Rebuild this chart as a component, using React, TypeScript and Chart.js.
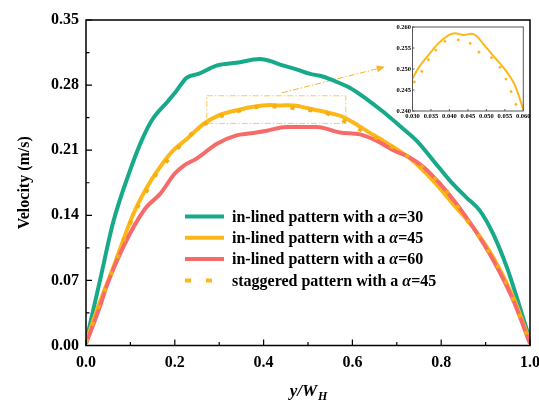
import React, { useEffect, useRef } from "react";
import { Chart, registerables } from "chart.js";
Chart.register(...registerables);

const FONT = '"Liberation Serif", "Times New Roman", serif';

// ---------- main chart data ----------
const GREEN_X = [0, 0.0315, 0.0615, 0.099, 0.125, 0.148, 0.185, 0.204, 0.227, 0.253, 0.294, 0.339, 0.392, 0.414, 0.437, 0.474, 0.505, 0.527, 0.557, 0.595, 0.632, 0.67, 0.707, 0.745, 0.782, 0.82, 0.857, 0.887, 0.917, 0.948, 0.97, 1.0];
const GREEN_Y = [0.004, 0.070, 0.133, 0.188, 0.220, 0.242, 0.263, 0.274, 0.288, 0.292, 0.301, 0.304, 0.308, 0.306, 0.302, 0.297, 0.292, 0.290, 0.285, 0.277, 0.265, 0.251, 0.236, 0.220, 0.199, 0.177, 0.159, 0.145, 0.120, 0.084, 0.052, 0.006];

const YELLOW_X = [0, 0.0315, 0.0615, 0.107, 0.137, 0.167, 0.197, 0.227, 0.264, 0.300, 0.316, 0.343, 0.370, 0.397, 0.415, 0.438, 0.460, 0.474, 0.496, 0.523, 0.546, 0.561, 0.578, 0.600, 0.635, 0.67, 0.73, 0.782, 0.827, 0.872, 0.917, 0.962, 1.0];
const YELLOW_Y = [0.004, 0.047, 0.084, 0.142, 0.170, 0.192, 0.210, 0.222, 0.238, 0.2477, 0.2502, 0.2533, 0.2561, 0.2580, 0.2585, 0.2581, 0.2584, 0.2578, 0.2555, 0.2527, 0.2504, 0.2486, 0.2460, 0.2404, 0.230, 0.220, 0.201, 0.177, 0.152, 0.127, 0.095, 0.052, 0.004];

const RED_X = [0, 0.0315, 0.046, 0.084, 0.133, 0.167, 0.2, 0.219, 0.249, 0.295, 0.339, 0.384, 0.407, 0.452, 0.482, 0.52, 0.572, 0.617, 0.655, 0.692, 0.73, 0.76, 0.797, 0.835, 0.872, 0.917, 0.962, 1.0];
const RED_Y = [0.002, 0.042, 0.063, 0.106, 0.147, 0.163, 0.185, 0.193, 0.201, 0.217, 0.226, 0.229, 0.231, 0.235, 0.235, 0.235, 0.229, 0.227, 0.220, 0.210, 0.202, 0.192, 0.174, 0.152, 0.127, 0.092, 0.049, 0.002];

const STAG_X = [0, 0.0315, 0.0615, 0.110, 0.133, 0.159, 0.189, 0.223, 0.264, 0.305, 0.325, 0.343, 0.363, 0.388, 0.424, 0.456, 0.480, 0.514, 0.537, 0.553, 0.567, 0.580, 0.610, 0.670, 0.733, 0.771, 0.805, 0.850, 0.900, 0.950, 1.0];
const STAG_Y = [0.003, 0.046, 0.083, 0.143, 0.163, 0.185, 0.202, 0.221, 0.237, 0.2469, 0.2494, 0.2522, 0.2545, 0.2566, 0.2569, 0.2561, 0.2540, 0.2527, 0.2504, 0.2476, 0.2446, 0.2416, 0.234, 0.219, 0.2006, 0.186, 0.170, 0.140, 0.107, 0.064, 0.003];

const X_TICKS = [0, 0.2, 0.4, 0.6, 0.8, 1.0];
const X_MINOR = [0.1, 0.3, 0.5, 0.7, 0.9];
const Y_TICKS = [0, 0.07, 0.14, 0.21, 0.28, 0.35];
const Y_MINOR = [0.035, 0.105, 0.175, 0.245, 0.315];

const LEGEND_PREFIX = ["in-lined pattern with a ", "in-lined pattern with a ", "in-lined pattern with a ", "staggered pattern with a "];
const LEGEND_SUFFIX = ["=30", "=45", "=60", "=45"];

const ZOOM_BOX = { x0: 0.272, x1: 0.585, y0: 0.2388, y1: 0.2685 };
const ARROW = { x0: 0.441, y0: 0.2717, x1: 0.673, y1: 0.2996 };

// ---------- inset data ----------
const INSET_X = [0.0300, 0.0316, 0.0343, 0.0370, 0.0397, 0.0415, 0.0438, 0.0460, 0.0474, 0.0496, 0.0523, 0.0546, 0.0561, 0.0578, 0.0600];
const INSET_Y = [0.2477, 0.2502, 0.2533, 0.2561, 0.2580, 0.2585, 0.2581, 0.2584, 0.2578, 0.2555, 0.2527, 0.2504, 0.2486, 0.2460, 0.2404];
const INSET_DOT_X = [0.0305, 0.0325, 0.0343, 0.0363, 0.0388, 0.0424, 0.0456, 0.0480, 0.0514, 0.0537, 0.0553, 0.0567, 0.0580];
const INSET_DOT_Y = [0.2469, 0.2494, 0.2522, 0.2545, 0.2566, 0.2569, 0.2561, 0.2540, 0.2527, 0.2504, 0.2476, 0.2446, 0.2416];
const INSET_X_TICKS = [0.030, 0.035, 0.040, 0.045, 0.050, 0.055, 0.060];
const INSET_Y_TICKS = [0.240, 0.245, 0.250, 0.255, 0.260];

const GREEN = "#17A98A";
const YELLOW = "#FDB718";
const RED = "#F76A6A";

const zip = (xs: number[], ys: number[]) => xs.map((x, i) => ({ x, y: ys[i] }));

const mainDecor = {
  id: "mainDecor",
  beforeDatasetsDraw(chart: any) {
    const { ctx, scales } = chart;
    const x = scales.x, y = scales.y;
    ctx.save();
    ctx.strokeStyle = "#F8C866";
    ctx.lineWidth = 1;
    ctx.setLineDash([6, 2, 1.5, 2]);
    const bx0 = x.getPixelForValue(ZOOM_BOX.x0), bx1 = x.getPixelForValue(ZOOM_BOX.x1);
    const by0 = y.getPixelForValue(ZOOM_BOX.y1), by1 = y.getPixelForValue(ZOOM_BOX.y0);
    ctx.strokeRect(bx0, by0, bx1 - bx0, by1 - by0);
    const ax0 = x.getPixelForValue(ARROW.x0), ay0 = y.getPixelForValue(ARROW.y0);
    const ax1 = x.getPixelForValue(ARROW.x1), ay1 = y.getPixelForValue(ARROW.y1);
    const ang = Math.atan2(ay1 - ay0, ax1 - ax0);
    const hl = 8;
    ctx.strokeStyle = "#F5B52E";
    ctx.beginPath();
    ctx.moveTo(ax0, ay0);
    ctx.lineTo(ax1 - hl * Math.cos(ang), ay1 - hl * Math.sin(ang));
    ctx.stroke();
    ctx.setLineDash([]);
    ctx.fillStyle = "#F5B52E";
    ctx.beginPath();
    ctx.moveTo(ax1, ay1);
    ctx.lineTo(ax1 - hl * Math.cos(ang) + 3.5 * Math.sin(ang), ay1 - hl * Math.sin(ang) - 3.5 * Math.cos(ang));
    ctx.lineTo(ax1 - hl * Math.cos(ang) - 3.5 * Math.sin(ang), ay1 - hl * Math.sin(ang) + 3.5 * Math.cos(ang));
    ctx.closePath();
    ctx.fill();
    ctx.restore();
  },
  afterDatasetsDraw(chart: any) {
    const { ctx, chartArea: a, scales } = chart;
    const x = scales.x, y = scales.y;
    ctx.save();
    ctx.setLineDash([]);
    ctx.strokeStyle = "#000";
    ctx.lineWidth = 1.5;
    ctx.strokeRect(a.left, a.top, a.right - a.left, a.bottom - a.top);
    ctx.lineWidth = 1.2;
    ctx.beginPath();
    X_TICKS.forEach((v) => { const px = x.getPixelForValue(v); ctx.moveTo(px, a.bottom); ctx.lineTo(px, a.bottom - 6); });
    X_MINOR.forEach((v) => { const px = x.getPixelForValue(v); ctx.moveTo(px, a.bottom); ctx.lineTo(px, a.bottom - 3.5); });
    Y_TICKS.forEach((v) => { const py = y.getPixelForValue(v); ctx.moveTo(a.left, py); ctx.lineTo(a.left + 6, py); });
    Y_MINOR.forEach((v) => { const py = y.getPixelForValue(v); ctx.moveTo(a.left, py); ctx.lineTo(a.left + 3.5, py); });
    ctx.stroke();

    // y title
    ctx.fillStyle = "#000";
    ctx.font = `bold 16px ${FONT}`;
    ctx.textAlign = "center";
    ctx.textBaseline = "middle";
    ctx.save();
    ctx.translate(25, (a.top + a.bottom) / 2);
    ctx.rotate(-Math.PI / 2);
    ctx.fillText("Velocity (m/s)", 0, 0);
    ctx.restore();

    // x title y/W_H
    ctx.textAlign = "left";
    ctx.textBaseline = "alphabetic";
    ctx.font = `italic bold 17px ${FONT}`;
    const main = "y/W";
    const wMain = ctx.measureText(main).width;
    ctx.font = `italic bold 12px ${FONT}`;
    const wSub = ctx.measureText("H").width;
    const cx = (a.left + a.right) / 2;
    const sx = cx - (wMain + wSub) / 2;
    ctx.font = `italic bold 17px ${FONT}`;
    ctx.fillText(main, sx, 396);
    ctx.font = `italic bold 12px ${FONT}`;
    ctx.fillText("H", sx + wMain + 1, 400);

    // legend
    const colors = [GREEN, YELLOW, RED, YELLOW];
    const lx0 = 185, lx1 = 224, tx = 232, ty0 = 217.5, dy = 21.3;
    for (let i = 0; i < 4; i++) {
      const cy = ty0 + i * dy;
      ctx.strokeStyle = colors[i];
      ctx.lineWidth = 4;
      ctx.lineCap = "butt";
      if (i === 3) ctx.setLineDash([6, 15]); else ctx.setLineDash([]);
      ctx.beginPath();
      ctx.moveTo(lx0, cy - 1);
      ctx.lineTo(lx1, cy - 1);
      ctx.stroke();
      ctx.setLineDash([]);
      ctx.fillStyle = "#000";
      ctx.textBaseline = "middle";
      ctx.font = `bold 16px ${FONT}`;
      let px = tx;
      ctx.fillText(LEGEND_PREFIX[i], px, cy);
      px += ctx.measureText(LEGEND_PREFIX[i]).width;
      ctx.font = `italic bold 16px ${FONT}`;
      ctx.fillText("α", px, cy);
      px += ctx.measureText("α").width;
      ctx.font = `bold 16px ${FONT}`;
      ctx.fillText(LEGEND_SUFFIX[i], px, cy);
    }
    ctx.restore();
  },
};

const insetDecor = {
  id: "insetDecor",
  afterDatasetsDraw(chart: any) {
    const { ctx, chartArea: a, scales } = chart;
    ctx.save();
    ctx.strokeStyle = "#555";
    ctx.lineWidth = 1;
    ctx.strokeRect(a.left, a.top, a.right - a.left, a.bottom - a.top);
    ctx.beginPath();
    INSET_X_TICKS.forEach((v) => { const px = scales.x.getPixelForValue(v); ctx.moveTo(px, a.bottom); ctx.lineTo(px, a.bottom - 2); });
    INSET_Y_TICKS.forEach((v) => { const py = scales.y.getPixelForValue(v); ctx.moveTo(a.left, py); ctx.lineTo(a.left + 2, py); });
    ctx.stroke();
    ctx.restore();
  },
};

export default function App() {
  const mainRef = useRef<HTMLCanvasElement | null>(null);
  const insetRef = useRef<HTMLCanvasElement | null>(null);

  useEffect(() => {
    const tickFont = { family: FONT, size: 16, weight: "bold" as const };
    const main = new Chart(mainRef.current as HTMLCanvasElement, {
      type: "line",
      data: {
        datasets: [
          { label: "green", data: zip(GREEN_X, GREEN_Y), borderColor: GREEN, borderWidth: 4, pointRadius: 0, cubicInterpolationMode: "monotone", order: 3 },
          { label: "yellow", data: zip(YELLOW_X, YELLOW_Y), borderColor: YELLOW, borderWidth: 4, pointRadius: 0, cubicInterpolationMode: "monotone", order: 2 },
          { label: "red", data: zip(RED_X, RED_Y), borderColor: RED, borderWidth: 4, pointRadius: 0, cubicInterpolationMode: "monotone", order: 1 },
          { label: "stag", data: zip(STAG_X, STAG_Y), borderColor: "#F5AE12", borderWidth: 4, borderDash: [4, 14], pointRadius: 0, cubicInterpolationMode: "monotone", order: 0 },
        ],
      } as any,
      options: {
        responsive: false,
        animation: false,
        devicePixelRatio: 1,
        layout: { padding: { top: 20, right: 9, left: 0, bottom: 0 } },
        plugins: { legend: { display: false }, tooltip: { enabled: false } },
        scales: {
          x: {
            type: "linear", min: 0, max: 1,
            grid: { display: false, drawTicks: false, tickLength: 0 }, border: { display: false },
            afterBuildTicks: (s: any) => { s.ticks = X_TICKS.map((v) => ({ value: v })); },
            afterFit: (s: any) => { s.height = 55.5; s.paddingLeft = 0; s.paddingRight = 0; },
            ticks: { font: tickFont, color: "#000", padding: 8, autoSkip: false, maxRotation: 0, callback: (v: any) => Number(v).toFixed(1) },
          },
          y: {
            type: "linear", min: 0, max: 0.35,
            grid: { display: false, drawTicks: false, tickLength: 0 }, border: { display: false },
            afterBuildTicks: (s: any) => { s.ticks = Y_TICKS.map((v) => ({ value: v })); },
            afterFit: (s: any) => { s.width = 86; },
            ticks: { font: tickFont, color: "#000", padding: 7, autoSkip: false, callback: (v: any) => Number(v).toFixed(2) },
          },
        },
      } as any,
      plugins: [mainDecor],
    });

    const insetFont = { family: FONT, size: 6.5, weight: "bold" as const };
    const inset = new Chart(insetRef.current as HTMLCanvasElement, {
      type: "line",
      data: {
        datasets: [
          { label: "line", data: zip(INSET_X, INSET_Y), borderColor: YELLOW, borderWidth: 2, pointRadius: 0, cubicInterpolationMode: "monotone" },
          { label: "dots", data: zip(INSET_DOT_X, INSET_DOT_Y), showLine: false, pointRadius: 1.4, pointBorderWidth: 0, pointBackgroundColor: YELLOW, borderColor: YELLOW },
        ],
      } as any,
      options: {
        responsive: false,
        animation: false,
        devicePixelRatio: 1,
        layout: { padding: { top: 9, right: 8.7, left: 0, bottom: 0 } },
        plugins: { legend: { display: false }, tooltip: { enabled: false } },
        scales: {
          x: {
            type: "linear", min: 0.03, max: 0.06,
            grid: { display: false, drawTicks: false, tickLength: 0 }, border: { display: false },
            afterBuildTicks: (s: any) => { s.ticks = INSET_X_TICKS.map((v) => ({ value: v })); },
            afterFit: (s: any) => { s.height = 9; s.paddingLeft = 0; s.paddingRight = 0; },
            ticks: { font: insetFont, color: "#000", padding: 1, autoSkip: false, maxRotation: 0, callback: (v: any) => Number(v).toFixed(3) },
          },
          y: {
            type: "linear", min: 0.24, max: 0.26,
            grid: { display: false, drawTicks: false, tickLength: 0 }, border: { display: false },
            afterBuildTicks: (s: any) => { s.ticks = INSET_Y_TICKS.map((v) => ({ value: v })); },
            afterFit: (s: any) => { s.width = 32.5; s.paddingTop = 0; s.paddingBottom = 0; },
            ticks: { font: insetFont, color: "#000", padding: 1.5, autoSkip: false, callback: (v: any) => Number(v).toFixed(3) },
          },
        },
      } as any,
      plugins: [insetDecor],
    });

    return () => { main.destroy(); inset.destroy(); };
  }, []);

  return (
    <div style={{ position: "fixed", left: 0, top: 0, width: 539, height: 401, background: "#fff" }}>
      <canvas ref={mainRef} width={539} height={401} style={{ position: "absolute", left: 0, top: 0, width: 539, height: 401 }} />
      <canvas ref={insetRef} width={152} height={102} style={{ position: "absolute", left: 380, top: 18, width: 152, height: 102 }} />
    </div>
  );
}
